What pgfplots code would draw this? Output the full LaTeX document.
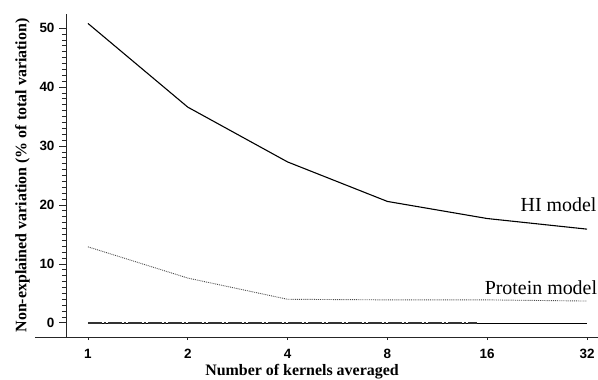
\documentclass[border=0pt]{standalone}
\usepackage{pgfplots}
\pgfplotsset{compat=1.18}
\usepackage{fontspec}
\setmainfont{Liberation Serif}
\setsansfont{Liberation Sans}
\begin{document}
\begin{tikzpicture}[x=1bp,y=1bp]
\begin{axis}[
  at={(0,0)}, anchor=south west,
  scale only axis, width=532bp, height=323bp,
  xmin=-0.22, xmax=5.11, ymin=-2.4, ymax=52.4,
  axis x line=bottom, axis y line=left,
  axis line style={-, line width=0.9bp, black!85},
  xtick={0,1,2,3,4,5}, xticklabels={1,2,4,8,16,32},
  ytick={0,10,20,30,40,50}, minor y tick num=9,
  tick align=outside,
  major tick length=7bp, minor tick length=4bp,
  tick style={black!85, line width=0.8bp},
  x tick style={/pgfplots/major tick length=3bp},
  ticklabel style={font=\sffamily\bfseries\fontsize{13.5}{15}\selectfont},
  /pgf/number format/assume math mode=true,
  yticklabel style={xshift=-1bp},
  xticklabel style={yshift=-2bp},
  xlabel={Number of kernels averaged},
  ylabel={Non-explained variation (\% of total variation)},
  xlabel style={font=\bfseries\fontsize{16}{18}\selectfont, xshift=-30bp, yshift=2bp},
  ylabel style={font=\bfseries\fontsize{16}{18}\selectfont, yshift=3bp},
]
\addplot[black, line width=1.1bp] coordinates {(0,50.8) (1,36.6) (2,27.3) (3,20.6) (4,17.7) (5,15.9)};
\addplot[black!70, line width=0.9bp, densely dotted] coordinates {(0,12.9) (1,7.6) (2,4.0) (3,3.9) (4,3.9) (5,3.7)};
\addplot[black, line width=0.7bp] coordinates {(0,0) (5,0)};
\addplot[black!80, line width=1.6bp, dash pattern=on 14bp off 2bp on 2bp off 2bp] coordinates {(0,0) (3.9,0)};
\node[anchor=base west, font=\fontsize{20}{24}\selectfont] at (axis cs:4.30,18.85) {HI model};
\node[anchor=base west, font=\fontsize{20}{24}\selectfont] at (axis cs:3.94,4.75) {Protein model};
\end{axis}
\draw[line width=0.9bp, black!85] (-31,0) -- (0,0);
\pgfresetboundingbox
\path[use as bounding box] (-66,-42) rectangle (532,337);
\end{tikzpicture}
\end{document}
